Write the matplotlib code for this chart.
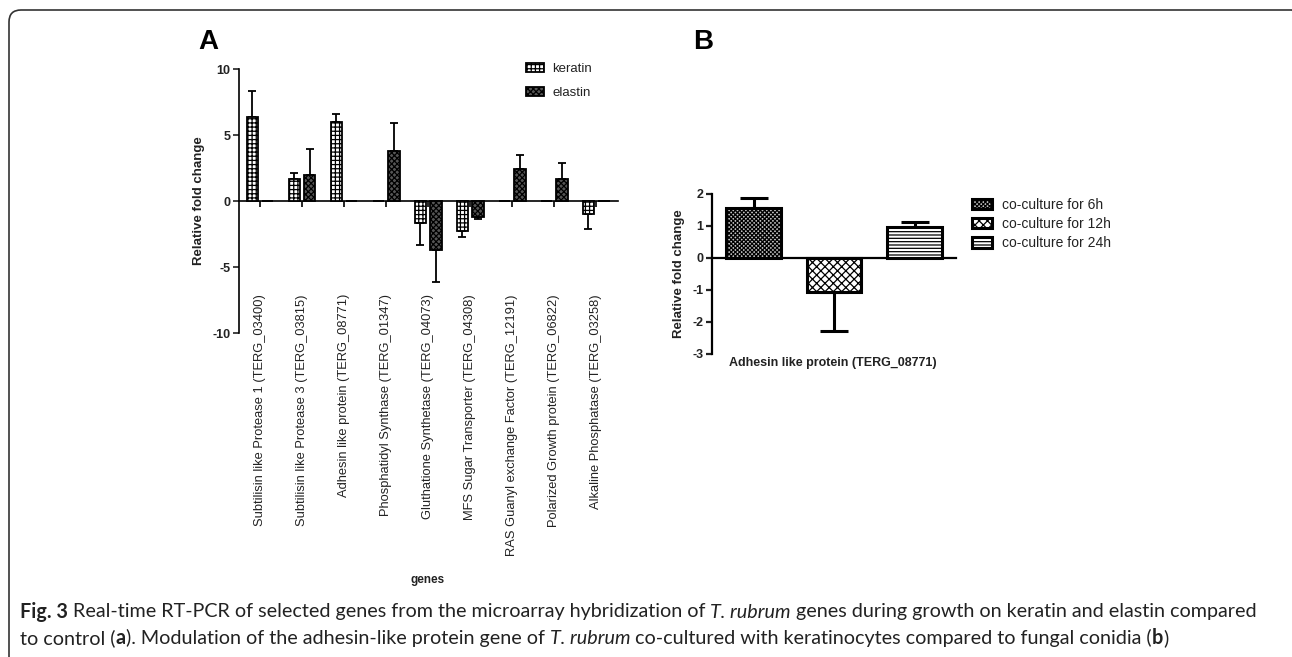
import matplotlib
matplotlib.use('Agg')
import matplotlib.pyplot as plt
from matplotlib.patches import FancyBboxPatch
import numpy as np

# Данные, панель A
genes = ['Subtilisin like Protease 1 (TERG_03400)',
         'Subtilisin like Protease 3 (TERG_03815)',
         'Adhesin like protein (TERG_08771)',
         'Phosphatidyl Synthase (TERG_01347)',
         'Gluthatione Synthetase (TERG_04073)',
         'MFS Sugar Transporter (TERG_04308)',
         'RAS Guanyl exchange Factor (TERG_12191)',
         'Polarized Growth protein (TERG_06822)',
         'Alkaline Phosphatase (TERG_03258)']
keratin = [6.4, 1.7, 6.0, 0, -1.7, -2.3, 0, 0, -1.0]
keratin_err = [1.9, 0.4, 0.6, 0, 1.6, 0.45, 0, 0, 1.1]
elastin = [0, 2.0, 0, 3.8, -3.7, -1.2, 2.45, 1.7, 0]
elastin_err = [0, 1.95, 0, 2.1, 2.45, 0.2, 1.0, 1.15, 0]

# Данные, панель B
coculture = ['co-culture for 6h', 'co-culture for 12h', 'co-culture for 24h']
b_values = [1.57, -1.06, 0.96]
b_err = [0.31, 1.22, 0.17]

plt.rcParams['font.family'] = 'Liberation Sans'
plt.rcParams['hatch.linewidth'] = 0.9
plt.rcParams['axes.unicode_minus'] = False
TXT = '#222222'

fig = plt.figure(figsize=(12.92, 6.57), dpi=100)
W, H = 1292, 657


def fx(px):
    return px / W


def fy(py):
    return 1 - py / H


def one_sided(vals, errs):
    vals = np.array(vals)
    errs = np.array(errs)
    low = np.where(vals < 0, errs, 0)
    high = np.where(vals > 0, errs, 0)
    return np.array([low, high])


def style_axes(ax, lw):
    for s in ['top', 'right']:
        ax.spines[s].set_visible(False)
    ax.spines['bottom'].set_position(('data', 0))
    ax.spines['left'].set_linewidth(lw)
    ax.spines['bottom'].set_linewidth(lw)
    ax.tick_params(axis='y', direction='out', length=4, width=lw, colors=TXT,
                   labelsize=9, pad=2)
    for t in ax.get_yticklabels():
        t.set_fontweight('bold')


# ---------- Панель A ----------
axA = fig.add_axes([fx(239), fy(333), fx(618 - 239), (333 - 69) / H])
x = np.arange(len(genes))
w = 0.27
off = 0.185
axA.bar(x - off, keratin, w, color='white', edgecolor='black', linewidth=1.3,
        hatch='++++', label='keratin', zorder=3)
axA.bar(x + off, elastin, w, color='#555555', edgecolor='black', linewidth=1.3,
        hatch='xxxxxx', label='elastin', zorder=3)

mk = np.array(keratin) != 0
axA.errorbar((x - off)[mk], np.array(keratin)[mk],
             yerr=one_sided(keratin, keratin_err)[:, mk], fmt='none',
             ecolor='black', elinewidth=1.3, capsize=3, capthick=1.3, zorder=2)
me = np.array(elastin) != 0
axA.errorbar((x + off)[me], np.array(elastin)[me],
             yerr=one_sided(elastin, elastin_err)[:, me], fmt='none',
             ecolor='black', elinewidth=1.3, capsize=3, capthick=1.3, zorder=2)

axA.set_xlim(-0.5, 8.52)
axA.set_ylim(-10, 10)
axA.set_yticks([-10, -5, 0, 5, 10])
style_axes(axA, 1.2)
axA.set_xticks(x)
axA.set_xticklabels(genes, rotation=90, va='top', ha='center', fontsize=9.3,
                    color=TXT)
axA.tick_params(axis='x', direction='out', length=4, width=1.2, pad=63)
axA.set_ylabel('Relative fold change', fontsize=9.5, fontweight='bold',
               color=TXT)
axA.yaxis.set_label_coords((205 - 239) / 379, 0.5)
axA.legend(loc='upper left', bbox_to_anchor=(0.725, 1.067),
           frameon=False, fontsize=9.5, handlelength=1.4, handleheight=0.6,
           labelspacing=0.9, handletextpad=0.6, labelcolor=TXT)

fig.text(fx(428), fy(580), 'genes', ha='center', va='center', fontsize=8.5,
         fontweight='bold', color=TXT)
fig.text(fx(198), fy(42), 'A', ha='left', va='center', fontsize=20,
         fontweight='bold', color='black')

# ---------- Панель B ----------
axB = fig.add_axes([fx(712), fy(354), fx(956 - 712), (354 - 194) / H])
xb = np.arange(len(coculture))
bars = axB.bar(xb, b_values, 0.68, edgecolor='black', linewidth=2.2, zorder=3)
b_hatch = ['xxxxxxxx', 'xxxx', '-----']
b_face = ['#c4c4c4', 'white', 'white']
for bar, h, fc, lab in zip(bars, b_hatch, b_face, coculture):
    bar.set_hatch(h)
    bar.set_facecolor(fc)
    bar.set_label(lab)
axB.errorbar(xb, b_values, yerr=one_sided(b_values, b_err), fmt='none',
             ecolor='black', elinewidth=2.2, capsize=10, capthick=2.2, zorder=2)
axB.set_xlim(-0.516, 2.515)
axB.set_ylim(-3, 2)
axB.set_yticks([-3, -2, -1, 0, 1, 2])
style_axes(axB, 1.6)
axB.set_xticks([])
axB.set_ylabel('Relative fold change', fontsize=9.5, fontweight='bold',
               color=TXT)
axB.yaxis.set_label_coords((685 - 712) / 244, 0.5)
axB.legend(loc='upper left', bbox_to_anchor=(1.016, 1.055), frameon=False,
           fontsize=10, handlelength=1.4, handleheight=0.8, labelspacing=0.38,
           handletextpad=0.7, labelcolor=TXT)
fig.text(fx(833), fy(363), 'Adhesin like protein (TERG_08771)', ha='center',
         va='center', fontsize=9, fontweight='bold', color=TXT)
fig.text(fx(693), fy(42), 'B', ha='left', va='center', fontsize=20,
         fontweight='bold', color='black')

# ---------- Рамка ----------
frame = FancyBboxPatch((0.09, -0.5), 12.95, 6.47 + 0.5,
                       boxstyle='round,pad=0,rounding_size=0.12',
                       transform=fig.dpi_scale_trans, fill=False,
                       edgecolor='#333333', linewidth=1.2, clip_on=False)
fig.patches.append(frame)

# ---------- Подпись ----------
cap_font = 'Lato'
cap_size = 14.2
renderer = fig.canvas.get_renderer()


def seg_width(s, **kw):
    t1 = fig.text(0, 0, 'n' + s + 'n', fontfamily=cap_font, fontsize=cap_size, **kw)
    t2 = fig.text(0, 0, 'nn', fontfamily=cap_font, fontsize=cap_size, **kw)
    wdt = t1.get_window_extent(renderer).width - t2.get_window_extent(renderer).width
    t1.remove()
    t2.remove()
    return wdt


def draw_line(segments, x0, y0):
    xpos = x0
    for s, kw in segments:
        fig.text(fx(xpos), fy(y0), s, fontfamily=cap_font, fontsize=cap_size,
                 color=TXT, va='center', ha='left', **kw)
        xpos += seg_width(s, **kw)


N = {}
B_ = {'fontweight': 'bold'}
I_ = {'fontstyle': 'italic'}
line1 = [('Fig. 3', B_),
         (' Real-time RT-PCR of selected genes from the microarray hybridization of ', N),
         ('T. rubrum', I_),
         (' genes during growth on keratin and elastin compared', N)]
line2 = [('to control (', N), ('a', B_),
         ('). Modulation of the adhesin-like protein gene of ', N),
         ('T. rubrum', I_),
         (' co-cultured with keratinocytes compared to fungal conidia (', N),
         ('b', B_), (')', N)]
draw_line(line1, 20, 612)
draw_line(line2, 20, 638)

fig.savefig('out.png', dpi=100)
